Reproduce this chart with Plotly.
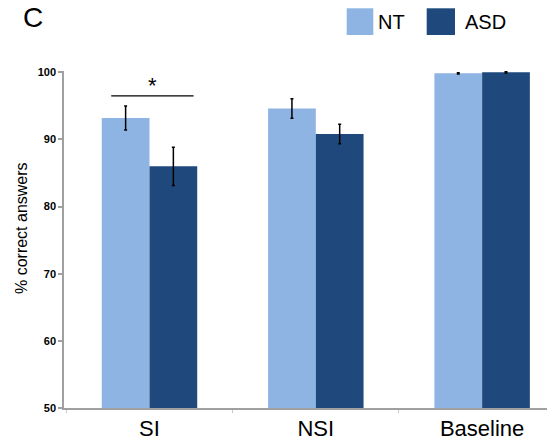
import plotly.graph_objects as go

# Task conditions and group means (% correct) with standard errors
conditions = ["SI", "NSI", "Baseline"]
nt_mean = [93.2, 94.6, 99.85]
nt_err = [1.8, 1.45, 0.1]
asd_mean = [86.0, 90.8, 100.0]
asd_err = [2.85, 1.45, 0.1]
y_ticks = [50, 60, 70, 80, 90, 100]

NT_COLOR = "#8EB4E3"
ASD_COLOR = "#1F497D"
AXIS_COLOR = "#A0A0A0"
FONT = "Arial, Liberation Sans, sans-serif"

W, H = 550, 443
ML, MR, MT, MB = 64, 3, 71, 35


def px_x(x):
    return (x - ML) / (W - ML - MR)


def px_y(y):
    return (H - MB - y) / (H - MT - MB)


fig = go.Figure()
fig.add_trace(go.Bar(
    name="NT", x=conditions, y=nt_mean, marker_color=NT_COLOR,
    marker_line_width=0,
    error_y=dict(type="data", array=nt_err, color="black", thickness=1.5, width=1.5),
))
fig.add_trace(go.Bar(
    name="ASD", x=conditions, y=asd_mean, marker_color=ASD_COLOR,
    marker_line_width=0,
    error_y=dict(type="data", array=asd_err, color="black", thickness=1.5, width=1.5),
))

shapes = [
    # significance bracket over SI
    dict(type="line", xref="x", yref="y", x0=-0.23, x1=0.265, y0=96.5, y1=96.5,
         line=dict(color="black", width=1.3)),
    # legend swatches
    dict(type="rect", xref="paper", yref="paper", x0=px_x(346.7), x1=px_x(373.3),
         y0=px_y(35), y1=px_y(8.3), fillcolor=NT_COLOR, line_width=0),
    dict(type="rect", xref="paper", yref="paper", x0=px_x(426.7), x1=px_x(455),
         y0=px_y(35), y1=px_y(8.3), fillcolor=ASD_COLOR, line_width=0),
]

annotations = [
    dict(text="*", xref="x", yref="y", x=0.017, y=98.0, showarrow=False,
         font=dict(family=FONT, size=22, color="black"), xanchor="center", yanchor="middle"),
    dict(text="NT", xref="paper", yref="paper", x=px_x(376), y=px_y(22), showarrow=False,
         font=dict(family=FONT, size=20, color="black"), xanchor="left", yanchor="middle"),
    dict(text="ASD", xref="paper", yref="paper", x=px_x(463), y=px_y(22), showarrow=False,
         font=dict(family=FONT, size=20, color="black"), xanchor="left", yanchor="middle"),
    dict(text="% correct answers", xref="paper", yref="paper", x=px_x(21), y=px_y(228),
         textangle=-90, showarrow=False, font=dict(family=FONT, size=16, color="black"),
         xanchor="center", yanchor="middle"),
    # panel letter
    dict(text="C", xref="paper", yref="paper", x=px_x(21), y=px_y(0), showarrow=False,
         font=dict(family=FONT, size=28, color="black"), xanchor="left", yanchor="top"),
]

fig.update_layout(
    width=W, height=H,
    margin=dict(l=ML, r=MR, t=MT, b=MB, pad=0, autoexpand=False),
    paper_bgcolor="white", plot_bgcolor="white",
    barmode="group", bargap=0.426, bargroupgap=0,
    showlegend=False,
    shapes=shapes, annotations=annotations,
    font=dict(family=FONT, color="black"),
)
fig.update_xaxes(
    type="category", range=[-0.514, 2.39], automargin=False,
    showline=True, linecolor=AXIS_COLOR, linewidth=1.5,
    ticks="outside", tickson="boundaries", ticklen=3, tickcolor="#C8C8C8", tickwidth=1,
    tickfont=dict(family=FONT, size=22, color="black"),
    ticklabelstandoff=0,
    showgrid=False, zeroline=False,
)
fig.update_yaxes(
    range=[50, 100.2], tickvals=y_ticks, automargin=False,
    showline=True, linecolor=AXIS_COLOR, linewidth=1.5,
    ticks="outside", ticklen=4, tickcolor=AXIS_COLOR, tickwidth=1.5,
    tickfont=dict(family=FONT, size=11, color="black", weight="bold"),
    showgrid=False, zeroline=False,
)

fig.write_html("out.html")
